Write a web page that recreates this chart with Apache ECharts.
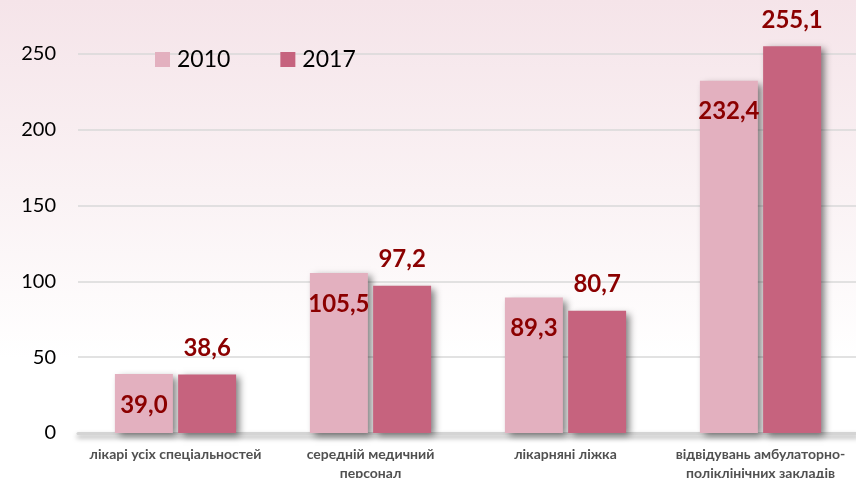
<!DOCTYPE html>
<html>
<head>
<meta charset="utf-8">
<script src="https://cdn.jsdelivr.net/npm/echarts@6/dist/echarts.min.js"></script>
<style>
  html, body { margin: 0; padding: 0; }
  body { background: linear-gradient(to bottom, #f5e4e9 0%, #faf2f4 40%, #ffffff 75%); }
  #chart { width: 856px; height: 478px; }
</style>
</head>
<body>
<div id="chart"></div>
<script>
const categories = [
  'лікарі усіх спеціальностей',
  'середній медичний\nперсонал',
  'лікарняні ліжка',
  'відвідувань амбулаторно-\nполіклінічних закладів'
]
const values2010 = [39.0, 105.5, 89.3, 232.4]
const values2017 = [38.6, 97.2, 80.7, 255.1]
const yTicks = [0, 50, 100, 150, 200, 250]

const fmt = (v) => v.toFixed(1).replace('.', ',')

const chart = echarts.init(document.getElementById('chart'))

const labelStyle = {
  show: true,
  color: '#8b0000',
  fontFamily: 'Lato',
  fontWeight: 'bold',
  fontSize: 24,
  formatter: (p) => fmt(p.value)
}

const shadow = {
  shadowColor: 'rgba(0, 0, 0, 0.5)',
  shadowBlur: 7,
  shadowOffsetX: 4,
  shadowOffsetY: 3
}

chart.setOption({
  backgroundColor: 'transparent',
  animation: false,
  legend: {
    top: 43,
    left: 150,
    itemWidth: 15,
    itemHeight: 15,
    itemGap: 50,
    icon: 'rect',
    textStyle: { fontFamily: 'Lato', fontSize: 23, color: '#000', padding: [0, 0, 0, 2] },
    data: ['2010', '2017']
  },
  grid: {
    left: 78,
    right: -2,
    top: 54,
    bottom: 45,
    outerBoundsMode: 'none'
  },
  xAxis: {
    type: 'category',
    data: categories,
    axisTick: { show: false },
    axisLine: {
      show: true,
      lineStyle: {
        color: '#d4d4d4',
        width: 3,
        shadowColor: 'rgba(0,0,0,0.35)',
        shadowBlur: 5,
        shadowOffsetY: 3
      }
    },
    axisLabel: {
      color: '#505050',
      fontFamily: 'Lato',
      fontWeight: 'bold',
      fontSize: 14,
      margin: 12,
      lineHeight: 19,
      interval: 0
    }
  },
  yAxis: {
    type: 'value',
    min: 0,
    max: 250,
    interval: 50,
    axisLine: { show: false },
    axisTick: { show: false },
    axisLabel: {
      color: '#000',
      fontFamily: 'Lato',
      fontSize: 20,
      margin: 22,
      formatter: (v) => yTicks.includes(v) ? String(v) : ''
    },
    splitLine: {
      show: true,
      lineStyle: { color: '#d9d9d9', width: 1.5 }
    }
  },
  series: [
    {
      name: '2010',
      type: 'bar',
      clip: false,
      barWidth: 58,
      barGap: '9%',
      data: values2010,
      itemStyle: Object.assign({ color: '#e3b0bf' }, shadow),
      label: Object.assign({ position: 'insideTop', distance: 19 }, labelStyle)
    },
    {
      name: '2017',
      type: 'bar',
      clip: false,
      barWidth: 58,
      data: values2017,
      itemStyle: Object.assign({ color: '#c6637e' }, shadow),
      label: Object.assign({ position: 'top', distance: 14 }, labelStyle)
    }
  ]
})
</script>
</body>
</html>
